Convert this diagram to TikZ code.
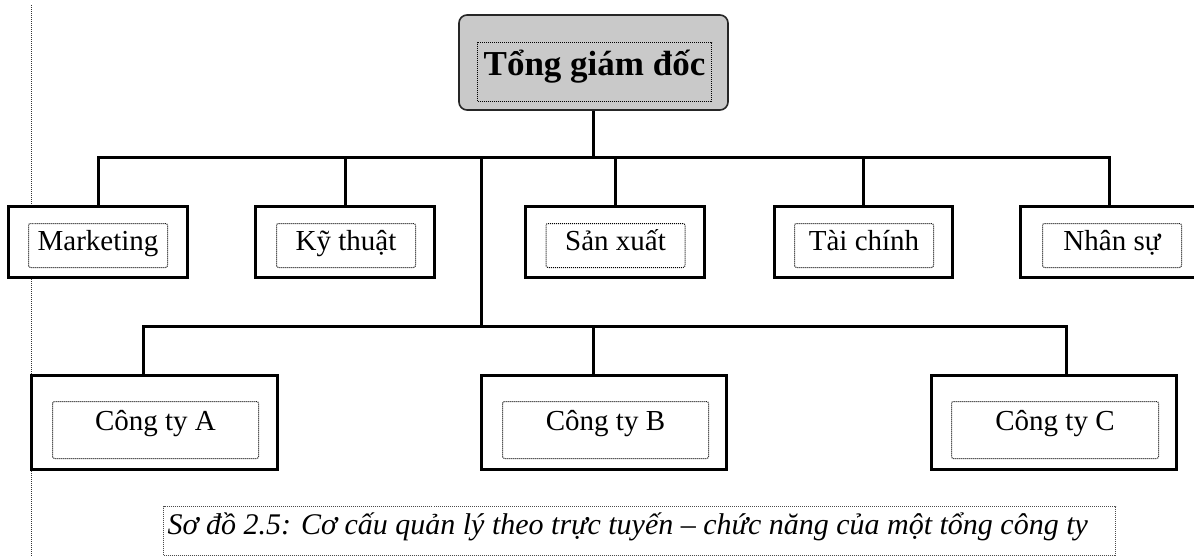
\documentclass[tikz,border=0pt]{standalone}
\usepackage{fontspec}
\setmainfont{Liberation Serif}
\begin{document}
\begin{tikzpicture}[x=1pt,y=-1pt,
  conn/.style={line width=3pt, line join=miter},
  ob/.style={draw, line width=3.2pt, fill=white, inner sep=0pt, rectangle},
  ib/.style={draw, line width=1pt, dash pattern=on 1pt off 1pt, rounded corners=2pt, inner sep=0pt, rectangle, font=\fontsize{29}{31}\selectfont},
  rowone/.style={ob, minimum height=71pt},
  rowoneIn/.style={ib, minimum height=44pt, text height=18pt, text depth=9pt},
  rowtwo/.style={ob, minimum height=94pt, minimum width=245pt},
  rowtwoIn/.style={ib, minimum height=57pt, minimum width=206pt, text height=14pt, text depth=14pt}
]
\useasboundingbox (0,0) rectangle (1194,557);
% page margin line
\draw[line width=1pt, dash pattern=on 1pt off 1pt, black!80] (31.5,5) -- (31.5,557);

% top box
\node[draw=black!85, line width=1.6pt, fill=black!21, rounded corners=8pt, minimum width=269pt, minimum height=95pt, inner sep=0pt] (gd) at (593.5,62.5) {};
\node[draw, line width=1pt, dash pattern=on 1pt off 1pt, inner sep=0pt, minimum width=234pt, minimum height=59pt, text height=22pt, text depth=16pt, font=\fontsize{35}{37}\selectfont\bfseries] (gdt) at (594.5,72) {Tổng giám đốc};

% row 1
\node[rowone, minimum width=179pt] (mk) at (98,242) {};
\node[rowoneIn, minimum width=139pt] (mkt) at (98,245.5) {Marketing};
\node[rowone, minimum width=179pt] (ky) at (345,242) {};
\node[rowoneIn, minimum width=139pt] (kyt) at (346,245.5) {Kỹ thuật};
\node[rowone, minimum width=179pt] (sx) at (615,242) {};
\node[rowoneIn, minimum width=139pt] (sxt) at (615.5,245.5) {Sản xuất};
\node[rowone, minimum width=178pt] (tc) at (863.5,242) {};
\node[rowoneIn, minimum width=139pt] (tct) at (864,245.5) {Tài chính};
\node[rowone, minimum width=178pt] (ns) at (1109.5,242) {};
\node[rowoneIn, minimum width=139pt] (nst) at (1112,245.5) {Nhân sự};

% row 2
\node[rowtwo, minimum width=246pt] (ca) at (154.5,422.5) {};
\node[rowtwoIn] (cat) at (155.5,430) {Công ty A};
\node[rowtwo] (cb) at (604,422.5) {};
\node[rowtwoIn] (cbt) at (605.5,430) {Công ty B};
\node[rowtwo] (cc) at (1054,422.5) {};
\node[rowtwoIn, minimum width=207pt] (cct) at (1055,430) {Công ty C};

% bus coordinates
\coordinate (tb) at (593,157);
\coordinate (tk) at (481,157);
\coordinate (bb) at (481,326);
\coordinate (caJ) at (143,326);
\coordinate (cbJ) at (593,326);
\coordinate (ccJ) at (1066,326);

% top level connectors
\draw[conn] (gd.south) -- (gd.south |- tb);
\draw[conn] (mk.north) -- (mk.north |- tb) -- (ns.north |- tb) -- (ns.north);
\draw[conn] (ky.north) -- (ky.north |- tb);
\draw[conn] (sx.north) -- (sx.north |- tb);
\draw[conn] (tc.north) -- (tc.north |- tb);
\draw[conn] (tk) -- (bb);

% bottom connectors
\draw[conn] (caJ |- ca.north) -- (caJ) -- (ccJ) -- (ccJ |- cc.north);
\draw[conn] (cbJ) -- (cbJ |- cb.north);

% caption
\node[draw=black!70, line width=1pt, dash pattern=on 1pt off 1pt, inner ysep=0pt, inner xsep=4pt, minimum height=49pt, text height=22pt, text depth=16pt, font=\fontsize{30}{32}\selectfont\itshape] (cap) at (639.5,531) {\makebox[944pt][l]{Sơ đồ 2.5: Cơ cấu quản lý theo trực tuyến – chức năng của một tổng công ty}};
\end{tikzpicture}
\end{document}
